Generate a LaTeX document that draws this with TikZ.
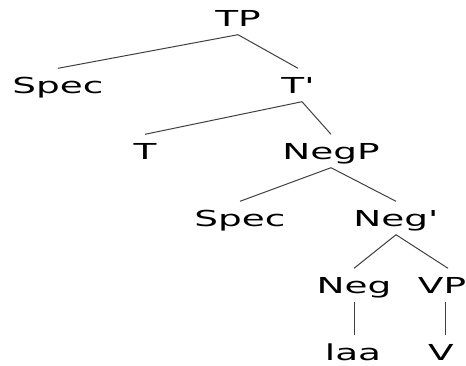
\documentclass[tikz,border=0pt]{standalone}
\usepackage{fontspec}
\newfontfamily\treefont[FakeStretch=1.7]{DejaVu Sans}

\tikzset{
  lbl/.style={inner xsep=0pt, inner ysep=8.5pt, text height=16pt, text depth=0pt},
  branch/.style={line width=1pt, draw=black!75}
}

\begin{document}
\begin{tikzpicture}[x=1pt,y=-1pt,font=\treefont\fontsize{22}{26}\selectfont]
\useasboundingbox (0,0) rectangle (466,365);

\begin{scope}[every node/.style={lbl}]
\node (tp) at (238,18) {TP};
\node (spec1) at (58,85) {Spec};
\node (tbar) at (298,85) {T'};
\node (t) at (145,151) {T};
\node (negp) at (331,151) {NegP};
\node (spec2) at (240,218) {Spec};
\node (negbar) at (396,218) {Neg'};
\node (neg) at (354,285) {Neg};
\node (vp) at (442,285) {VP};
\node (laa) at (353,352) {laa};
\node (v) at (441,352) {V};
\end{scope}

\draw[branch] (tp.south) -- (spec1.north);
\draw[branch] (tp.south) -- (tbar.north);
\draw[branch] ([xshift=4pt]tbar.south) -- (t.north);
\draw[branch] ([xshift=4pt]tbar.south) -- (negp.north);
\draw[branch] (negp.south) -- (spec2.north);
\draw[branch] (negp.south) -- (negbar.north);
\draw[branch] (negbar.south) -- (neg.north);
\draw[branch] (negbar.south) -- ([xshift=6pt]vp.north);
\draw[branch] (neg.south) -- (neg.south |- laa.north);
\draw[branch] ([xshift=3pt]vp.south) -- ([xshift=3pt]vp.south |- v.north);

%\draw[help lines] (0,0) grid[step=50] (466,365);

\end{tikzpicture}
\end{document}
